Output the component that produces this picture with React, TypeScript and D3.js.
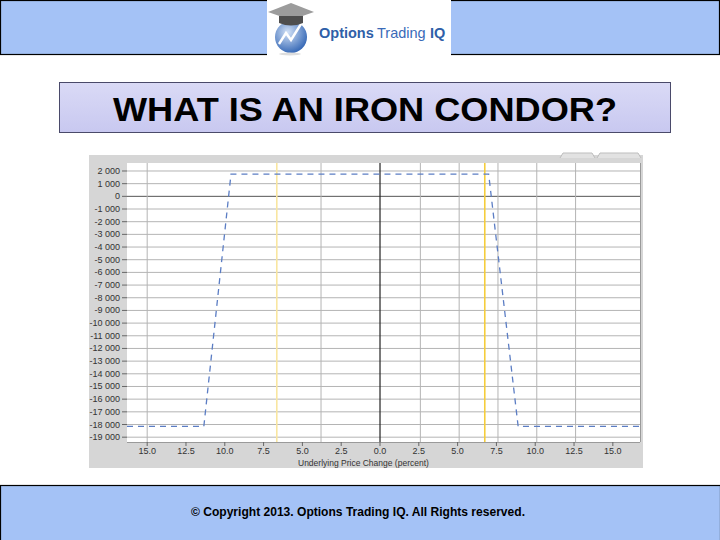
import React from "react";
import * as d3 from "d3";

const titleText = "WHAT IS AN IRON CONDOR?";
const footerText = "© Copyright 2013. Options Trading IQ. All Rights reserved.";
const xAxisTitle = "Underlying Price Change (percent)";

// payoff profile: price change (%) -> P&L
const payoffX = [-16.3, -11.35, -9.6, 7.0, 8.9, 16.75];
const payoffY = [-18150, -18150, 1750, 1750, -18150, -18150];

const yTicks = [2000, 1000, 0, -1000, -2000, -3000, -4000, -5000, -6000, -7000, -8000, -9000, -10000, -11000, -12000, -13000, -14000, -15000, -16000, -17000, -18000, -19000];
const xTicks = [-15, -12.5, -10, -7.5, -5, -2.5, 0, 2.5, 5, 7.5, 10, 12.5, 15];
const xGridValues = [-15, -3.8, 2.6, 5.1, 7.6, 10.1, 12.6];
const stdDevLines = [-6.65, 6.75];
const stdDevColors = ["#f9e6a0", "#f5cd3c"];

const locale = d3.formatLocale({ decimal: ".", thousands: " ", grouping: [3], currency: ["", ""], minus: "-" });
const yFmt = locale.format(",d");
const xFmt = (v: number) => Math.abs(v).toFixed(1);

export default function App() {
  const W = 720, H = 540;
  const plot = { left: 127, right: 640, top: 163, bottom: 442 };
  const x = d3.scaleLinear().domain([-16.3, 16.75]).range([plot.left, plot.right]);
  const y = d3.scaleLinear().domain([2630, -19380]).range([plot.top, plot.bottom]);
  const line = d3.line<number>().x((_, i) => x(payoffX[i])).y((d) => y(d));

  return (
    <svg width={W} height={H} style={{ position: "absolute", left: 0, top: 0, fontFamily: "Arial, 'Liberation Sans', sans-serif" }}>
      <defs>
        <linearGradient id="titleGrad" x1="0" y1="0" x2="0" y2="1">
          <stop offset="0" stopColor="#dadaf6" />
          <stop offset="1" stopColor="#c8c8f0" />
        </linearGradient>
        <radialGradient id="globe" cx="0.4" cy="0.35" r="0.7">
          <stop offset="0" stopColor="#d3e2f7" />
          <stop offset="1" stopColor="#2f63b3" />
        </radialGradient>
        <clipPath id="plotClip">
          <rect x={plot.left} y={plot.top} width={plot.right - plot.left} height={plot.bottom - plot.top} />
        </clipPath>
      </defs>
      <rect x={0} y={0} width={W} height={H} fill="#ffffff" />

      {/* top banner */}
      <rect x={0.5} y={0.5} width={W - 1} height={54} fill="#a4c2f6" stroke="#000" strokeWidth={1.2} />
      <rect x={267} y={0} width={184} height={56} fill="#ffffff" />
      {/* logo */}
      <g>
        <ellipse cx={291} cy={37} rx={16} ry={16} fill="url(#globe)" />
        <path d="M279,44 L286,33 L291,40 L301,24" fill="none" stroke="#ffffff" strokeWidth={2.4} />
        <path d="M268,12 L291,3 L314,12 L291,20 Z" fill="#9c9c9c" />
        <path d="M279,16 L279,23 Q291,28 303,23 L303,16" fill="#4e4e4e" />
        <ellipse cx={290} cy={54} rx={11} ry={1.5} fill="#dddddd" />
        <text x={319} y={38} fontSize={14.5} fontWeight="bold" fill="#2f5fa8">Options</text>
        <text x={377} y={38} fontSize={14.5} fill="#3a6ab8">Trading</text>
        <text x={430} y={38} fontSize={14.5} fontWeight="bold" fill="#2f5fa8">IQ</text>
      </g>

      {/* title box */}
      <rect x={59.5} y={82.5} width={611} height={50} fill="url(#titleGrad)" stroke="#4a4a6a" strokeWidth={1} />
      <text x={365} y={121} textAnchor="middle" fontSize={33} fontWeight="bold" fill="#000" textLength={504} lengthAdjust="spacingAndGlyphs">{titleText}</text>

      {/* chart panel */}
      <rect x={89} y={155} width={554} height={313} fill="#d6d6d6" />
      <path d="M560,158 L563,153 L592,153 L595,158 M597,158 L600,153 L638,153 L641,158" fill="#e2e2e2" stroke="#bdbdbd" strokeWidth={1} />
      <rect x={plot.left} y={plot.top} width={plot.right - plot.left} height={plot.bottom - plot.top} fill="#ffffff" />

      <g clipPath="url(#plotClip)">
        {yTicks.map((t) => (
          <line key={"yg" + t} x1={plot.left} x2={plot.right} y1={y(t)} y2={y(t)} stroke={t === 0 ? "#555" : "#b4b4b4"} strokeWidth={1} />
        ))}
        {xGridValues.map((t) => (
          <line key={"xg" + t} x1={x(t)} x2={x(t)} y1={plot.top} y2={plot.bottom} stroke="#b4b4b4" strokeWidth={1} />
        ))}
        <line x1={x(0)} x2={x(0)} y1={plot.top} y2={plot.bottom} stroke="#222" strokeWidth={1.2} />
        {stdDevLines.map((t, i) => (
          <line key={"sd" + t} x1={x(t)} x2={x(t)} y1={plot.top} y2={plot.bottom} stroke={stdDevColors[i]} strokeWidth={1.6} />
        ))}
        <path d={line(payoffY) || ""} fill="none" stroke="#5b7dc4" strokeWidth={1.3} strokeDasharray="6,5" />
      </g>
      <line x1={plot.right + 0.5} x2={plot.right + 0.5} y1={plot.top} y2={plot.bottom} stroke="#9a9a9a" />
      <line x1={plot.left} x2={plot.right} y1={plot.bottom + 0.5} y2={plot.bottom + 0.5} stroke="#9a9a9a" />

      {/* y axis */}
      {yTicks.map((t) => (
        <g key={"yt" + t}>
          <line x1={plot.left - 5} x2={plot.left} y1={y(t)} y2={y(t)} stroke="#666" />
          <text x={plot.left - 7} y={y(t) + 3} textAnchor="end" fontSize={9} fill="#333">{yFmt(t)}</text>
        </g>
      ))}
      {/* x axis */}
      {xTicks.map((t) => (
        <g key={"xt" + t}>
          <line x1={x(t)} x2={x(t)} y1={plot.bottom} y2={plot.bottom + 4} stroke="#666" />
          <text x={x(t)} y={plot.bottom + 12} textAnchor="middle" fontSize={9} fill="#333">{xFmt(t)}</text>
        </g>
      ))}
      <text x={298} y={466} fontSize={8.5} fill="#333">{xAxisTitle}</text>

      {/* footer */}
      <rect x={0.5} y={485.5} width={W} height={60} fill="#a4c2f6" stroke="#000" strokeWidth={1.2} />
      <text x={358} y={516} textAnchor="middle" fontSize={12.5} fontWeight="bold" fill="#000" textLength={334} lengthAdjust="spacingAndGlyphs">{footerText}</text>
    </svg>
  );
}
